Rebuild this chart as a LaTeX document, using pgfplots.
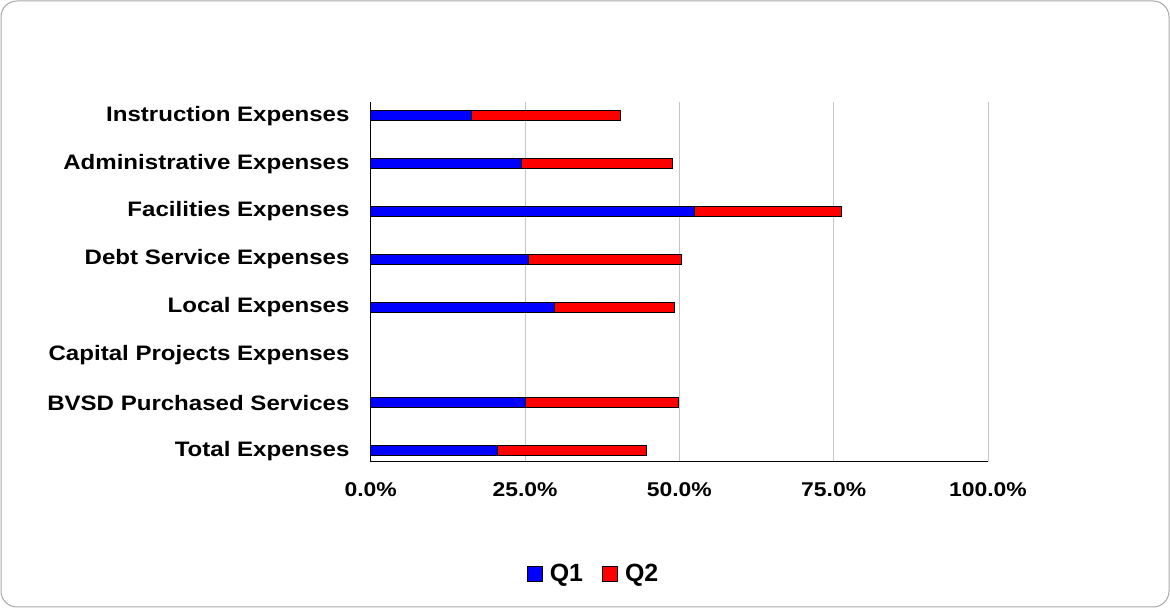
\documentclass[border=0pt]{standalone}
\usepackage{pgfplots}
\pgfplotsset{compat=1.18}
\usepackage{fontspec}
\setmainfont{Liberation Sans}
\newfontfamily\lab[FakeStretch=1.15]{Liberation Sans}
\begin{document}
\begin{tikzpicture}[x=1bp,y=1bp]
\useasboundingbox (0,0) rectangle (1170,608);
\draw[gray!70, line width=1bp, rounded corners=16bp] (1,1) rectangle (1169,607);
\begin{axis}[
  at={(370.7bp,146.3bp)}, anchor=south west,
  scale only axis, width=617.3bp, height=359.7bp,
  xbar stacked, bar width=10bp,
  xmin=0, xmax=100, ymin=-0.23, ymax=7.29,
  axis lines*=left,
  axis line style={black, line width=1.5bp},
  major tick length=0pt,
  xmajorgrids, grid style={gray!45, line width=1bp},
  xtick={0,25,50,75,100},
  xticklabels={0.0\%,25.0\%,50.0\%,75.0\%,100.0\%},
  ytick={0,1,2,3,4,5,6,7},
  yticklabels={Total Expenses, BVSD Purchased Services, Capital Projects Expenses, Local Expenses, Debt Service Expenses, Facilities Expenses, Administrative Expenses, Instruction Expenses},
  xticklabel style={font=\lab\bfseries\fontsize{20}{24}\selectfont, anchor=north, inner sep=0pt, yshift=-21bp},
  yticklabel style={font=\lab\bfseries\fontsize{21}{25}\selectfont, anchor=east, inner sep=0pt, xshift=-21bp},
  legend style={at={(0.361,-0.312)}, anchor=center, draw=none, legend columns=2,
    font=\bfseries\fontsize{25}{30}\selectfont,
    /tikz/every even column/.append style={column sep=17bp}},
  legend image code/.code={\draw[#1, line width=1bp] (0bp,-7.5bp) rectangle (15bp,7.5bp); \path (20bp,0bp);},
]
\addplot[fill=blue, draw=black, line width=1bp] coordinates {
(20.6,0) (25.1,1) (0,2) (29.7,3) (25.6,4) (52.5,5) (24.5,6) (16.4,7)};
\addplot[fill=red, draw=black, line width=1bp] coordinates {
(24.1,0) (24.8,1) (0,2) (19.5,3) (24.8,4) (23.8,5) (24.4,6) (24.1,7)};
\legend{Q1,Q2}
\end{axis}
\end{tikzpicture}
\end{document}
